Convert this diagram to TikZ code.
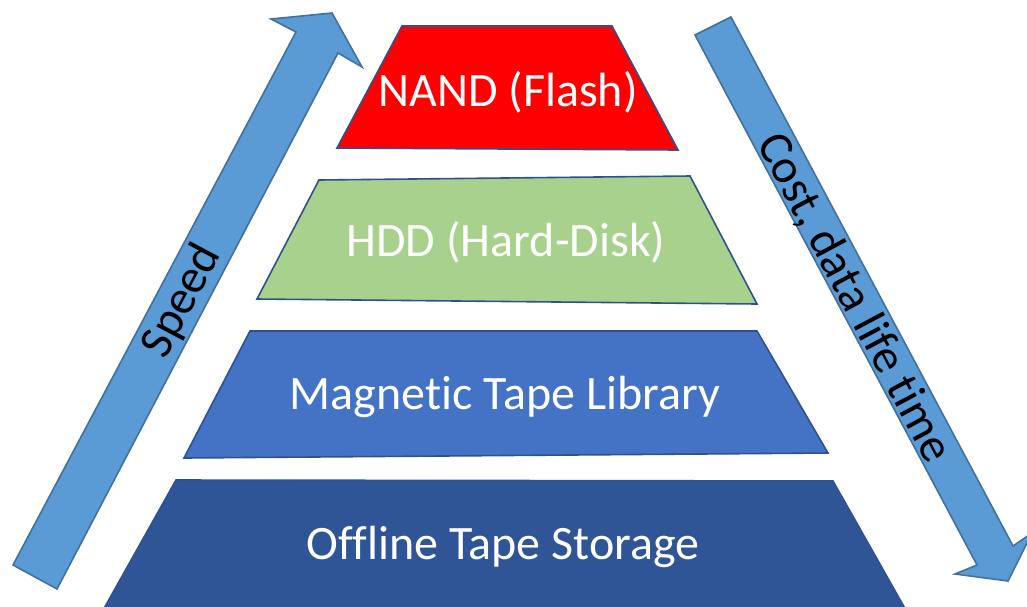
\documentclass[tikz,border=0pt]{standalone}
\usepackage{fontspec}
\setmainfont[Ligatures=NoCommon]{Carlito}
\begin{document}
\begin{tikzpicture}[x=1pt,y=-1pt,
  layer/.style={line width=1.6pt, draw=edgeblue, line join=miter},
  bigarrow/.style={line width=1.6pt, draw=arrowedge, fill=arrowfill, line join=miter},
  tiertext/.style={text=white, font=\fontsize{48}{56}\selectfont, inner sep=0pt},
  arrowtext/.style={text=black, font=\fontsize{48}{56}\selectfont, inner sep=0pt}]
\definecolor{edgeblue}{HTML}{2F528F}
\definecolor{arrowedge}{HTML}{41719C}
\definecolor{arrowfill}{HTML}{5B9BD5}
\definecolor{nandred}{HTML}{FF0000}
\definecolor{hddgreen}{HTML}{A9D18E}
\definecolor{tapeblue}{HTML}{4472C4}
\definecolor{offblue}{HTML}{2F5597}
\useasboundingbox (0,0) rectangle (1027,606);
\clip (0,0) rectangle (1027,606);
% tiers
\draw[layer, fill=nandred] (402,26) -- (612,26) -- (678,150) -- (337,148) -- cycle;
\draw[layer, fill=hddgreen] (319,180) -- (690,176) -- (757,304) -- (257,299) -- cycle;
\draw[layer, fill=tapeblue] (250,331) -- (757,331) -- (828,453) -- (184,458) -- cycle;
\draw[layer, fill=offblue] (176,480) -- (833,481) -- (907,612) -- (102,612) -- cycle;
\node[tiertext] (nand) at (508,92) {NAND (Flash)};
\node[tiertext] (hdd) at (506,242) {HDD (Hard-Disk)};
\node[tiertext] (tape) at (505,397) {Magnetic Tape Library};
\node[tiertext] (offline) at (503,547) {Offline Tape Storage};
% speed arrow
\draw[bigarrow] (13,565) -- (296,32) -- (271,19) -- (332,13) -- (362,67) -- (338,53) -- (57,589) -- cycle;
\node[arrowtext, rotate=62] (speed) at (182,301) {Speed};
% cost arrow
\draw[bigarrow] (695,35) -- (731,17) -- (1013,546) -- (1032,533) -- (1008,581) -- (955,574) -- (977,565) -- cycle;
\node[arrowtext, rotate=-62] (cost) at (854,298) {Cost, data life time};
\end{tikzpicture}
\end{document}
